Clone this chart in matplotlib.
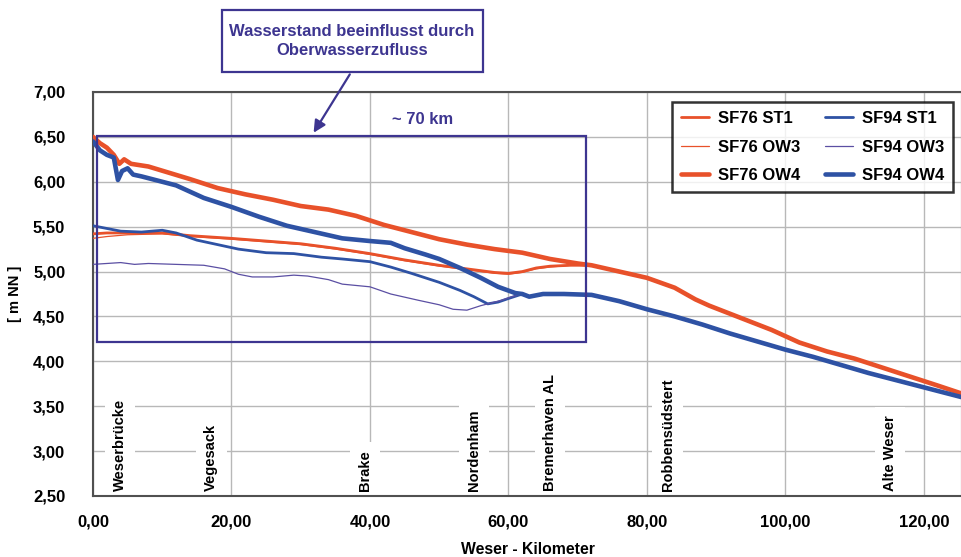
import numpy as np
import matplotlib
matplotlib.use('Agg')
import matplotlib.pyplot as plt
from matplotlib.patches import Rectangle

plt.rcParams['font.family'] = ['Liberation Sans', 'DejaVu Sans']
plt.rcParams['font.weight'] = 'bold'

ORANGE = '#e8512a'
BLUE = '#2e52a4'
THINBLUE = '#5b4fa3'
BOXC = '#3d3590'

# shared downstream parts (all runs coincide there)
km_tail76 = [72, 76, 80, 84, 87, 89, 92, 95, 98, 102, 106, 110, 114, 118, 122, 125.5]
wl_tail76 = [5.07, 5.00, 4.93, 4.82, 4.69, 4.62, 4.53, 4.44, 4.35, 4.21, 4.11, 4.03, 3.93, 3.83, 3.73, 3.64]
km_tail94 = [62, 63, 65, 68, 72, 76, 80, 84, 88, 92, 96, 100, 104, 108, 112, 116, 120, 125.5]
wl_tail94 = [4.75, 4.72, 4.75, 4.75, 4.74, 4.67, 4.58, 4.50, 4.41, 4.31, 4.22, 4.13, 4.05, 3.96, 3.87, 3.79, 3.71, 3.60]

# upstream parts
km76_st1 = [0, 2, 5, 10, 14, 20, 25, 30, 35, 40, 45, 50, 55, 58, 60, 62, 64, 66, 69]
wl76_st1 = [5.42, 5.43, 5.43, 5.43, 5.40, 5.37, 5.34, 5.31, 5.26, 5.20, 5.13, 5.07, 5.02, 4.99, 4.98, 5.00, 5.04, 5.06, 5.07]
km76_ow3 = [0, 2, 5, 10, 14, 20, 25, 30, 35, 40, 45, 50, 55, 58, 60, 62, 64, 66, 69]
wl76_ow3 = [5.37, 5.39, 5.41, 5.42, 5.39, 5.36, 5.33, 5.30, 5.25, 5.19, 5.12, 5.06, 5.01, 4.98, 4.97, 4.99, 5.03, 5.05, 5.07]
km76_ow4 = [0, 1, 2, 3, 3.8, 4.5, 5.5, 8, 11, 14, 18, 22, 26, 30, 34, 38, 42, 46, 50, 54, 58, 62, 66, 70]
wl76_ow4 = [6.50, 6.43, 6.38, 6.30, 6.20, 6.25, 6.20, 6.17, 6.10, 6.03, 5.93, 5.86, 5.80, 5.73, 5.69, 5.62, 5.52, 5.44,
            5.36, 5.30, 5.25, 5.21, 5.14, 5.09]

km94_st1 = [0, 2, 4, 7, 10, 12, 15, 18, 21, 25, 29, 33, 36, 40, 43, 46, 50, 53, 55, 57, 58.5, 60]
wl94_st1 = [5.51, 5.48, 5.45, 5.44, 5.46, 5.43, 5.35, 5.30, 5.25, 5.21, 5.20, 5.16, 5.14, 5.11, 5.05, 4.98, 4.88,
            4.79, 4.72, 4.64, 4.66, 4.70]
km94_ow3 = [0, 2, 4, 6, 8, 12, 16, 19, 21, 23, 26, 29, 31, 34, 36, 40, 43, 47, 50, 52, 54, 56, 57.5, 59, 60.5]
wl94_ow3 = [5.08, 5.09, 5.10, 5.08, 5.09, 5.08, 5.07, 5.03, 4.97, 4.94, 4.94, 4.96, 4.95, 4.91, 4.86, 4.83, 4.75,
            4.68, 4.63, 4.58, 4.57, 4.62, 4.65, 4.68, 4.72]
km94_ow4 = [0, 1, 2, 3, 3.6, 4.2, 5, 5.8, 7, 9, 12, 16, 20, 24, 28, 32, 36, 40, 43, 45, 48, 50, 53, 56, 58.5, 61]
wl94_ow4 = [6.45, 6.35, 6.30, 6.27, 6.02, 6.12, 6.15, 6.08, 6.06, 6.02, 5.96, 5.82, 5.72, 5.61, 5.51, 5.44, 5.37,
            5.34, 5.32, 5.26, 5.19, 5.14, 5.04, 4.93, 4.83, 4.76]

places = ['Weserbrücke', 'Vegesack', 'Brake', 'Nordenham', 'Bremerhaven AL', 'Robbensüdstert', 'Alte Weser']
place_km = [3.9, 17.1, 39.3, 55.0, 66.0, 83.0, 115.1]

x_ticks = [0, 20, 40, 60, 80, 100, 120]
y_ticks = [2.5, 3.0, 3.5, 4.0, 4.5, 5.0, 5.5, 6.0, 6.5, 7.0]


def comma(v):
    return ('%.2f' % v).replace('.', ',')


fig = plt.figure(figsize=(9.62, 5.57), dpi=100)
ax = fig.add_axes([93 / 962, 61 / 557, 869 / 962, 404 / 557])

series = [
    ('SF76 ST1', km76_st1 + km_tail76, wl76_st1 + wl_tail76, ORANGE, 2.0),
    ('SF76 OW3', km76_ow3 + km_tail76, wl76_ow3 + wl_tail76, ORANGE, 0.9),
    ('SF76 OW4', km76_ow4 + km_tail76, wl76_ow4 + wl_tail76, ORANGE, 3.3),
    ('SF94 ST1', km94_st1 + km_tail94, wl94_st1 + wl_tail94, BLUE, 2.0),
    ('SF94 OW3', km94_ow3 + km_tail94, wl94_ow3 + wl_tail94, THINBLUE, 0.9),
    ('SF94 OW4', km94_ow4 + km_tail94, wl94_ow4 + wl_tail94, BLUE, 3.3),
]
lines = []
for name, x, y, c, lw in series:
    l, = ax.plot(x, y, color=c, lw=lw, label=name, zorder=3, solid_capstyle='round')
    lines.append(l)

ax.set_xlim(0, 125.5)
ax.set_ylim(2.5, 7.0)
ax.set_xticks(x_ticks)
ax.set_xticklabels([comma(v) for v in x_ticks])
ax.set_yticks(y_ticks)
ax.set_yticklabels([comma(v) for v in y_ticks])
ax.tick_params(length=0, labelsize=12)
ax.tick_params(axis='y', pad=20)
ax.tick_params(axis='x', pad=13)
ax.grid(True, color='#b8b8b8', lw=1.0, zorder=0)
for s in ax.spines.values():
    s.set_color('#505050')
    s.set_linewidth(1.5)

ax.set_xlabel('Weser - Kilometer', fontsize=11.3, fontweight='bold', labelpad=9)
fig.text(15 / 962, 1 - 294 / 557, '[ m NN ]', rotation=90, fontsize=10.5, fontweight='bold',
         ha='center', va='center')

# location labels
for name, k in zip(places, place_km):
    ax.text(k, 2.56, name, rotation=90, ha='center', va='bottom', fontsize=10.5, fontweight='bold',
            zorder=2, bbox=dict(facecolor='white', edgecolor='none', pad=6))

# box marking the ~70 km reach
ax.add_patch(Rectangle((0.6, 4.22), 70.6, 2.29, fill=False, edgecolor=BOXC, lw=1.6, zorder=4))
ax.text(47.6, 6.69, '~ 70 km', color=BOXC, fontsize=12, fontweight='bold', ha='center', va='center')

# annotation box above the plot
ax.add_patch(Rectangle((18.6, 7.223), 37.7, 0.69, fill=False, edgecolor=BOXC, lw=1.6,
                       clip_on=False, zorder=4))
ax.text(37.4, 7.57, 'Wasserstand beeinflusst durch\nOberwasserzufluss', color=BOXC, fontsize=12,
        fontweight='bold', ha='center', va='center', linespacing=1.35, clip_on=False)
ax.annotate('', xy=(31.65, 6.52), xytext=(37.3, 7.223), annotation_clip=False,
            arrowprops=dict(arrowstyle='-|>', color=BOXC, lw=1.6, mutation_scale=18))

leg = ax.legend(handles=lines, ncol=2, loc='upper right', bbox_to_anchor=(953 / 962, 1 - 102 / 557),
                bbox_transform=fig.transFigure, fontsize=12, frameon=True, fancybox=False,
                edgecolor='black', labelspacing=0.8, handlelength=1.7, handletextpad=0.5,
                columnspacing=1.5, borderpad=0.55, borderaxespad=0)
leg.get_frame().set_linewidth(1.8)
leg.set_zorder(5)

fig.savefig('out.png', dpi=100)
